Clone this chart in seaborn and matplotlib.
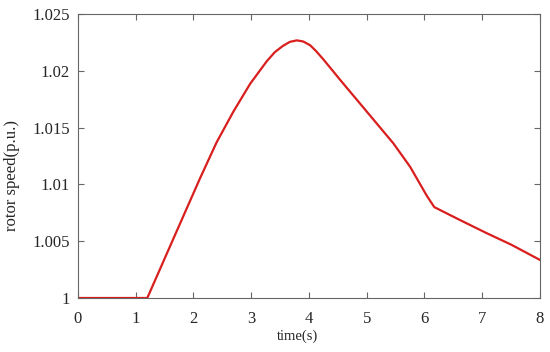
import seaborn as sns
import matplotlib.pyplot as plt
import pandas as pd

# rotor speed response
time_s = [0.0, 0.5, 1.0, 1.2, 1.65, 2.11, 2.4, 2.69, 2.98, 3.27, 3.41,
          3.55, 3.67, 3.79, 3.9, 4.02, 4.12, 4.25, 4.54, 4.88, 5.17, 5.46,
          5.75, 6.04, 6.17, 6.6, 7.08, 7.5, 8.0]
rotor_speed = [1.0, 1.0, 1.0, 1.0, 1.0052, 1.0105, 1.0137, 1.0164, 1.01885,
               1.02085, 1.02165, 1.0222, 1.02255, 1.02268, 1.02258, 1.02225,
               1.02175, 1.0210, 1.0192, 1.01714, 1.01538, 1.01362, 1.01156,
               1.0090, 1.0080, 1.0069, 1.0057, 1.0047, 1.00335]

x_ticks = [0, 1, 2, 3, 4, 5, 6, 7, 8]
y_ticks = [1.0, 1.005, 1.01, 1.015, 1.02, 1.025]
y_tick_labels = ["1", "1.005", "1.01", "1.015", "1.02", "1.025"]

df = pd.DataFrame({"time": time_s, "speed": rotor_speed})

sns.set_style("ticks")
plt.rcParams["font.family"] = ["Liberation Serif", "DejaVu Serif"]

fig = plt.figure(figsize=(5.5, 3.52), dpi=100)
ax = fig.add_axes([0.1418, 0.1534, 0.84, 0.8068])
sns.lineplot(data=df, x="time", y="speed", color="#d91e1e", linewidth=1.6, ax=ax)

ax.set_xlim(0, 8)
ax.set_ylim(1.0, 1.025)
ax.set_xticks(x_ticks)
ax.set_yticks(y_ticks)
ax.set_yticklabels(y_tick_labels)
ax.set_xlabel("time(s)", fontsize=10.5)
ax.set_ylabel("rotor speed(p.u.)", fontsize=12)
ax.xaxis.set_label_coords(0.476, -0.112)
ax.yaxis.set_label_coords(-0.126, 0.43)

for side in ["top", "right", "bottom", "left"]:
    ax.spines[side].set_visible(True)
    ax.spines[side].set_color("#666666")
    ax.spines[side].set_linewidth(0.8)
ax.tick_params(direction="in", length=4, width=0.8, color="#666666",
               labelsize=12, top=True, right=True)
ax.tick_params(axis="x", pad=9)
ax.tick_params(axis="y", pad=6)

plt.savefig("out.png", dpi=100)
